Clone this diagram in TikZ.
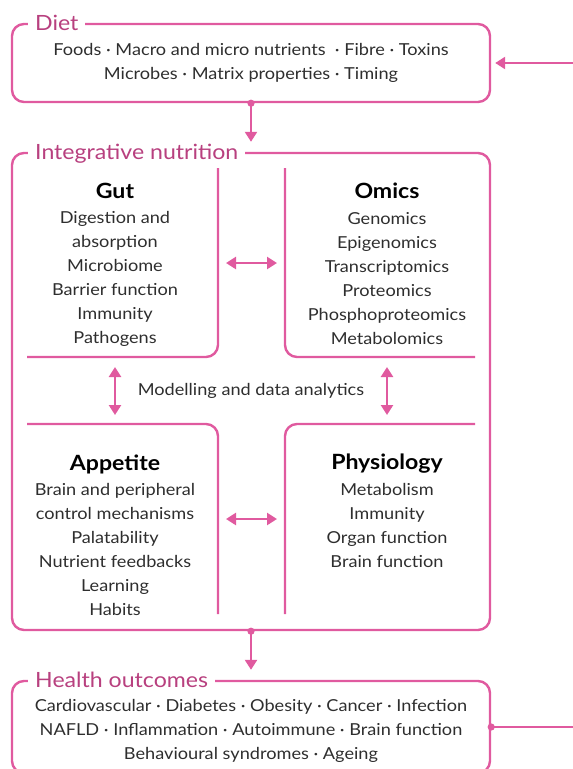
\documentclass[tikz,border=0pt]{standalone}
\usepackage{fontspec}
\setmainfont{Lato}[FakeStretch=1.1]
\usetikzlibrary{arrows.meta}
\definecolor{pinkline}{HTML}{E05A9F}
\definecolor{pinktitle}{HTML}{B8407F}
\definecolor{bodytext}{HTML}{2E2E2E}
\tikzset{
  box/.style={draw=pinkline, line width=2.4pt, rounded corners=12pt, rectangle},
  boxtitle/.style={anchor=base west, fill=white, inner xsep=7pt, inner ysep=2pt, text=pinktitle, font=\fontsize{21}{24}\selectfont},
  body/.style={align=center, inner sep=0pt, text=bodytext, font=\fontsize{16.5}{24}\selectfont},
  head/.style={inner sep=0pt, font=\fontsize{21}{24}\selectfont\bfseries},
  quad/.style={draw=pinkline, line width=2.4pt, rounded corners=12pt},
  flow/.style={draw=pinkline, line width=2.4pt, {Circle[length=7pt]}-{Triangle[length=10pt,width=12pt]}},
  inflow/.style={draw=pinkline, line width=2.4pt, -{Triangle[length=10pt,width=12pt]}},
  outflow/.style={draw=pinkline, line width=2.4pt, {Circle[length=7pt]}-},
  twoway/.style={draw=pinkline, line width=2.4pt, {Triangle[length=10pt,width=12pt]}-{Triangle[length=10pt,width=12pt]}},
}
\begin{document}
\begin{tikzpicture}[x=1pt, y=-1pt]
    \useasboundingbox (0,0) rectangle (573,769);

    % outer boxes
    \node[box, minimum width=478pt, minimum height=78pt] (diet) at (251,63) {};
    \node[box, minimum width=478pt, minimum height=477pt] (integ) at (251,391.5) {};
    \node[box, minimum width=478pt, minimum height=92pt] (health) at (251,727) {};

    \node[boxtitle] (diettitle) at (28,30) {Diet};
    \node[boxtitle] (integtitle) at (28,159) {Integrative nutrition};
    \node[boxtitle] (healthtitle) at (28,687) {Health outcomes};

    \node[body] (dietlist) at (251,63) {Foods · Macro and micro nutrients~ · Fibre · Toxins\\Microbes · Matrix properties · Timing};
    \node[body] (healthlist) at (251,731) {Cardiovascular · Diabetes · Obesity · Cancer · Infection\\NAFLD · Inflammation · Autoimmune · Brain function\\Behavioural syndromes · Ageing};

    % quadrants
    \draw[quad] (218,168) -- (218,357) -- (27,357);
    \draw[quad] (285,168) -- (285,357) -- (475,357);
    \draw[quad] (27,424) -- (218,424) -- (218,614);
    \draw[quad] (475,424) -- (285,424) -- (285,614);

    \node[head] (gut) at (115,191) {Gut};
    \node[body] (gutlist) at (115,279) {Digestion and\\absorption\\Microbiome\\Barrier function\\Immunity\\Pathogens};
    \node[head] (omics) at (387,191) {Omics};
    \node[body] (omicslist) at (387,279) {Genomics\\Epigenomics\\Transcriptomics\\Proteomics\\Phosphoproteomics\\Metabolomics};
    \node[head] (appetite) at (115,464) {Appetite};
    \node[body] (appetitelist) at (115,549) {Brain and peripheral\\control mechanisms\\Palatability\\Nutrient feedbacks\\Learning\\Habits};
    \node[head] (physio) at (387,464) {Physiology};
    \node[body] (physiolist) at (387,525) {Metabolism\\Immunity\\Organ function\\Brain function};
    \node[body] (model) at (251,391) {Modelling and data analytics};

    % arrow ends
    \coordinate (gutR) at (226,263);
    \coordinate (omicsL) at (277,263);
    \coordinate (appR) at (226,519);
    \coordinate (physL) at (277,519);
    \coordinate (gutB) at (115,367);
    \coordinate (appT) at (115,415);
    \coordinate (omicsB) at (387,367);
    \coordinate (physT) at (387,415);
    \coordinate (dietin) at (576,63);
    \coordinate (healthout) at (576,727);

    \draw[twoway] (gutR) -- (omicsL);
    \draw[twoway] (appR) -- (physL);
    \draw[twoway] (gutB) -- (appT);
    \draw[twoway] (omicsB) -- (physT);

    \draw[flow, shorten <=-3.5pt, shorten >=10pt] (diet) -- (integ);
    \draw[flow, shorten <=-3.5pt, shorten >=10pt] (integ) -- (health);
    \draw[inflow, shorten >=4pt] (dietin) -- (diet.east);
    \draw[outflow, shorten <=-3.5pt] (health.east) -- (healthout);

  \end{tikzpicture}
\end{document}
